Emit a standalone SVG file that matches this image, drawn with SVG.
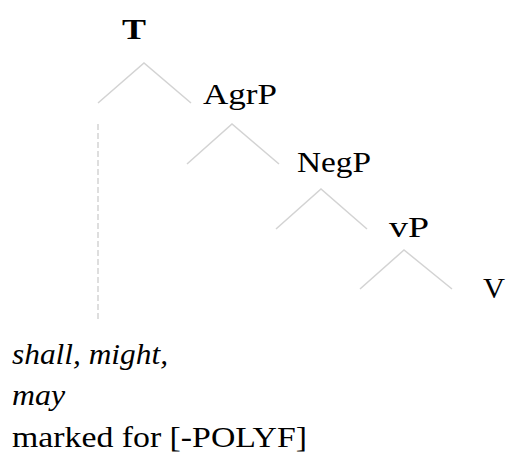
<svg xmlns="http://www.w3.org/2000/svg" width="506" height="468" viewBox="0 0 506 468">
<style>
.t{font-family:"Liberation Serif","Times New Roman",serif;font-size:30px;fill:#000}
.b{font-weight:bold}
.i{font-style:italic}
.e{stroke:#d3d3d3;stroke-width:1.5;fill:none}
.d{stroke:#d3d3d3;stroke-width:1.5;stroke-dasharray:6 3;fill:none}
</style>
<rect width="506" height="468" fill="#fff"/>
<g id="connectors">
<polyline class="e" points="98,103 144,63 191,103"/>
<polyline class="e" points="187,164 232,124 279,164"/>
<polyline class="e" points="276,229 321,189 367,229"/>
<polyline class="e" points="360,289 404,250 452,289"/>
<line class="d" x1="98" y1="124" x2="98" y2="320"/>
</g>
<g id="T"><text class="t b" x="122" y="39" textLength="24" lengthAdjust="spacingAndGlyphs">T</text></g>
<g id="AgrP"><text class="t" x="203" y="104" textLength="74" lengthAdjust="spacingAndGlyphs">AgrP</text></g>
<g id="NegP"><text class="t" x="297" y="172" textLength="74" lengthAdjust="spacingAndGlyphs">NegP</text></g>
<g id="vP"><text class="t" x="389" y="237" textLength="40" lengthAdjust="spacingAndGlyphs">vP</text></g>
<g id="V"><text class="t" x="483" y="298" textLength="22" lengthAdjust="spacingAndGlyphs">V</text></g>
<g id="label">
<text class="t i" x="12" y="364" textLength="156" lengthAdjust="spacingAndGlyphs">shall, might,</text>
<text class="t i" x="12" y="405" textLength="53" lengthAdjust="spacingAndGlyphs">may</text>
<text class="t" x="12" y="447" textLength="295" lengthAdjust="spacingAndGlyphs">marked for [-POLYF]</text>
</g>
</svg>
